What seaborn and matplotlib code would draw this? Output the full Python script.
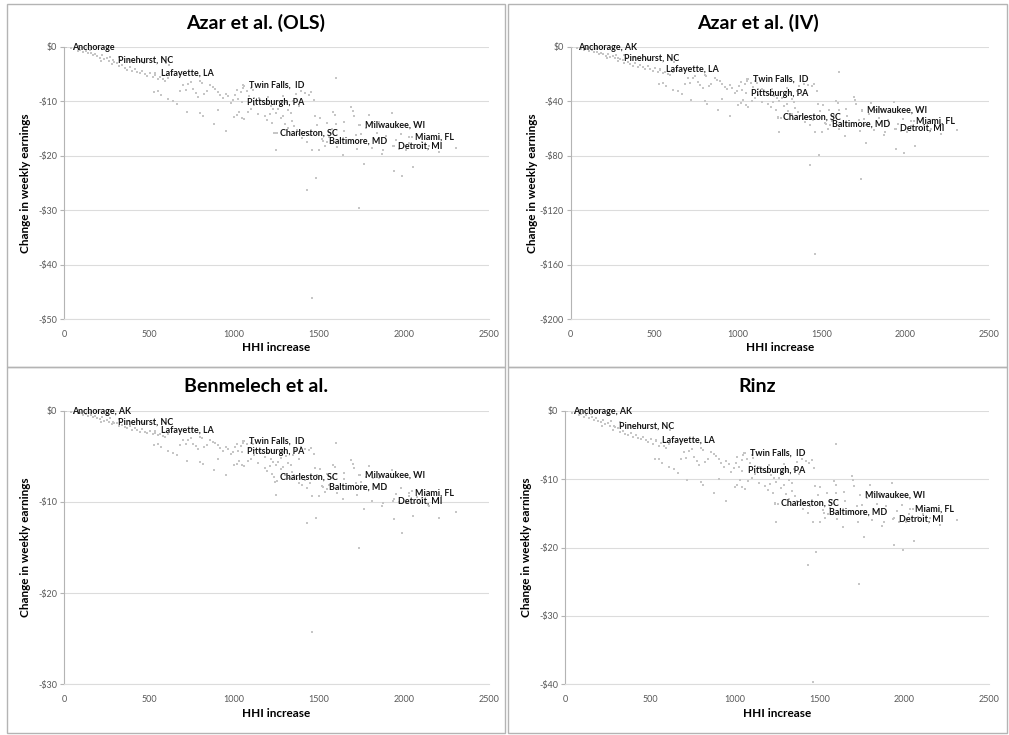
import pandas as pd
import matplotlib
matplotlib.use("Agg")
import matplotlib.pyplot as plt
from matplotlib.patches import Rectangle
from matplotlib.ticker import FuncFormatter, MultipleLocator
import seaborn as sns

# -----------------------------
# DATA
# -----------------------------
hhi = [40, 60, 80, 95, 110, 125, 140, 150, 155, 170,
       180, 195, 210, 215, 220, 235, 250, 265, 270, 280,
       295, 310, 320, 320, 330, 340, 355, 370, 380, 385,
       400, 415, 430, 445, 450, 460, 470, 475, 490, 505,
       520, 530, 535, 550, 550, 565, 570, 580, 595, 600,
       610, 610, 615, 640, 665, 680, 700, 715, 720, 730,
       745, 760, 775, 790, 800, 800, 810, 815, 825, 840,
       860, 875, 880, 890, 905, 905, 920, 935, 950, 950,
       965, 980, 995, 1000, 1005, 1015, 1015, 1025, 1030, 1040,
       1045, 1050, 1060, 1060, 1075, 1080, 1090, 1100, 1100, 1110,
       1120, 1120, 1140, 1145, 1165, 1180, 1185, 1195, 1200, 1210,
       1215, 1225, 1230, 1240, 1245, 1245, 1255, 1260, 1275, 1275,
       1290, 1290, 1300, 1305, 1320, 1320, 1335, 1340, 1350, 1355,
       1365, 1370, 1380, 1385, 1395, 1400, 1415, 1420, 1430, 1430,
       1440, 1445, 1455, 1460, 1460, 1470, 1475, 1480, 1490, 1500,
       1505, 1520, 1535, 1545, 1550, 1560, 1575, 1585, 1595, 1600,
       1600, 1605, 1640, 1645, 1650, 1690, 1700, 1705, 1720, 1725,
       1735, 1740, 1750, 1765, 1765, 1780, 1795, 1810, 1820, 1840,
       1855, 1870, 1880, 1895, 1930, 1940, 1940, 1955, 1970, 1985,
       1990, 2010, 2030, 2050, 2055, 2080, 2110, 2150, 2210, 2310]

azar_ols = [-0.3, -0.5, -0.7, -0.6, -1.0, -0.8, -1.2, -0.6, -1.1, -1.5,
            -1.3, -1.7, -2.0, -2.6, -1.6, -2.3, -2.1, -2.6, -1.8, -3.2,
            -2.8, -3.0, -1.9, -3.6, -2.5, -3.4, -3.9, -4.2, -2.4, -3.7,
            -4.5, -4.1, -4.6, -4.9, -2.7, -4.4, -3.0, -5.0, -5.3, -4.8,
            -5.6, -8.3, -5.2, -5.9, -8.1, -5.5, -8.8, -6.0, -6.3, -3.0,
            -5.7, -9.6, -3.3, -9.9, -10.6, -8.2, -7.0, -8.0, -11.9, -6.9,
            -6.5, -7.8, -8.5, -9.2, -6.3, -12.1, -6.6, -12.7, -8.7, -8.2,
            -7.0, -7.4, -14.1, -7.7, -8.3, -11.6, -8.9, -9.5, -8.6, -15.4,
            -9.1, -10.4, -9.8, -12.9, -8.8, -7.9, -12.5, -9.6, -11.9, -8.4,
            -13.0, -7.6, -7.2, -13.3, -8.1, -12.0, -9.0, -7.5, -11.5, -8.0,
            -9.4, -10.7, -12.3, -9.5, -10.0, -12.8, -10.5, -13.5, -9.3, -12.4,
            -10.9, -14.0, -11.5, -15.9, -12.1, -19.0, -15.8, -11.4, -10.6, -13.1,
            -9.1, -12.7, -14.2, -10.2, -11.7, -15.0, -12.2, -13.7, -9.9, -14.5,
            -8.7, -15.3, -10.8, -16.1, -8.2, -16.8, -15.6, -8.5, -17.4, -26.3,
            -8.8, -16.2, -8.4, -19.0, -46.1, -9.8, -12.8, -24.1, -14.3, -19.0,
            -13.0, -16.9, -18.2, -14.0, -17.5, -16.5, -15.1, -12.0, -12.6, -5.7,
            -14.1, -18.4, -19.8, -13.8, -15.4, -11.1, -11.8, -12.8, -16.2, -18.8,
            -29.5, -14.3, -16.0, -17.5, -21.5, -14.9, -12.5, -18.6, -14.0, -15.8,
            -13.9, -19.7, -19.0, -16.3, -12.2, -18.3, -22.8, -17.1, -18.8, -16.0,
            -23.7, -19.0, -17.6, -16.6, -22.1, -18.0, -17.5, -18.2, -19.4, -18.6]

azar_iv = [-1.0, -1.7, -2.3, -2.0, -3.3, -2.6, -4.0, -2.0, -3.6, -5.0,
           -4.3, -5.6, -6.6, -8.6, -5.3, -7.6, -6.9, -8.6, -5.9, -10.6,
           -9.2, -9.9, -6.3, -11.9, -8.3, -11.2, -12.9, -13.9, -7.9, -12.2,
           -14.9, -13.5, -15.2, -16.2, -8.9, -14.5, -9.9, -16.5, -17.5, -15.8,
           -18.5, -27.4, -17.2, -19.5, -26.7, -18.2, -29.0, -19.8, -20.8, -9.9,
           -18.8, -31.7, -10.9, -32.7, -35.0, -27.1, -23.1, -26.4, -39.3, -22.8,
           -21.5, -25.7, -28.1, -30.4, -20.8, -39.9, -21.8, -41.9, -28.7, -27.1,
           -23.1, -24.4, -46.5, -25.4, -27.4, -38.3, -29.4, -31.4, -28.4, -50.8,
           -30.0, -34.3, -32.3, -42.6, -29.0, -26.1, -41.3, -31.7, -39.3, -27.7,
           -42.9, -25.1, -23.8, -43.9, -26.7, -39.6, -29.7, -24.8, -38.0, -26.4,
           -31.0, -35.3, -40.6, -31.4, -33.0, -42.2, -34.7, -44.6, -30.7, -40.9,
           -36.0, -46.2, -38.0, -52.5, -39.9, -62.7, -52.1, -37.6, -35.0, -43.2,
           -30.0, -41.9, -46.9, -33.7, -38.6, -49.5, -40.3, -45.2, -32.7, -47.9,
           -28.7, -50.5, -35.6, -53.1, -27.1, -55.4, -51.5, -28.1, -57.4, -86.8,
           -29.0, -53.5, -27.7, -62.7, -152.1, -32.3, -42.2, -79.5, -47.2, -62.7,
           -42.9, -55.8, -60.1, -46.2, -57.8, -54.5, -49.8, -39.6, -41.6, -18.8,
           -46.5, -60.7, -65.3, -45.5, -50.8, -36.6, -38.9, -42.2, -53.5, -62.0,
           -97.4, -47.2, -52.8, -57.8, -71.0, -49.2, -41.3, -61.4, -46.2, -52.1,
           -45.9, -65.0, -62.7, -53.8, -40.3, -60.4, -75.2, -56.4, -62.0, -52.8,
           -78.2, -62.7, -58.1, -54.8, -72.9, -59.4, -57.8, -60.1, -64.0, -61.4]

benmelech = [-0.1, -0.2, -0.3, -0.3, -0.5, -0.4, -0.6, -0.3, -0.5, -0.7,
             -0.6, -0.8, -0.9, -1.2, -0.7, -1.1, -1.0, -1.2, -0.8, -1.5,
             -1.3, -1.4, -0.9, -1.7, -1.2, -1.6, -1.8, -1.9, -1.1, -1.7,
             -2.1, -1.9, -2.1, -2.3, -1.2, -2.0, -1.4, -2.3, -2.4, -2.2,
             -2.6, -3.8, -2.4, -2.7, -3.7, -2.5, -4.0, -2.8, -2.9, -1.4,
             -2.6, -4.4, -1.5, -4.6, -4.9, -3.8, -3.2, -3.7, -5.5, -3.2,
             -3.0, -3.6, -3.9, -4.2, -2.9, -5.6, -3.0, -5.8, -4.0, -3.8,
             -3.2, -3.4, -6.5, -3.5, -3.8, -5.3, -4.1, -4.4, -4.0, -7.1,
             -4.2, -4.8, -4.5, -5.9, -4.0, -3.6, -5.8, -4.4, -5.5, -3.9,
             -6.0, -3.5, -3.3, -6.1, -3.7, -5.5, -4.1, -3.5, -5.3, -3.7,
             -4.3, -4.9, -5.7, -4.4, -4.6, -6.3, -5.1, -6.6, -4.6, -6.1,
             -5.3, -6.9, -5.6, -7.8, -5.9, -9.2, -7.7, -5.6, -5.2, -6.4,
             -4.5, -6.2, -7.0, -5.0, -5.7, -7.4, -6.0, -6.7, -4.9, -7.1,
             -4.3, -7.5, -5.3, -7.9, -4.0, -8.2, -7.6, -4.2, -8.5, -12.3,
             -4.3, -7.9, -4.1, -9.3, -24.3, -4.8, -6.3, -11.8, -7.0, -9.3,
             -6.4, -8.3, -8.9, -6.9, -8.6, -8.1, -7.4, -5.9, -6.2, -3.5,
             -6.9, -9.0, -9.7, -6.8, -7.5, -5.4, -5.8, -6.3, -7.9, -9.2,
             -15.1, -7.0, -7.8, -8.6, -10.8, -7.3, -6.1, -9.9, -7.4, -8.4,
             -7.4, -10.4, -10.1, -8.6, -6.5, -9.7, -11.9, -9.1, -10.0, -8.5,
             -13.4, -10.1, -9.3, -8.8, -11.6, -9.5, -9.6, -10.4, -11.8, -11.1]

rinz = [-0.3, -0.4, -0.6, -0.5, -0.9, -0.7, -1.0, -0.5, -0.9, -1.3,
        -1.1, -1.5, -1.7, -2.2, -1.4, -2.0, -1.8, -2.2, -1.5, -2.8,
        -2.4, -2.6, -1.6, -3.1, -2.2, -2.9, -3.4, -3.6, -2.1, -3.2,
        -3.9, -3.5, -4.0, -4.2, -2.3, -3.8, -2.6, -4.3, -4.6, -4.1,
        -4.8, -7.1, -4.5, -5.1, -7.0, -4.7, -7.6, -5.2, -5.4, -2.6,
        -4.9, -8.3, -2.8, -8.5, -9.1, -7.1, -6.0, -6.9, -10.2, -5.9,
        -5.6, -6.7, -7.3, -7.9, -5.4, -10.4, -5.7, -10.9, -7.5, -7.1,
        -6.0, -6.4, -12.1, -6.6, -7.1, -10.0, -7.7, -8.2, -7.4, -13.2,
        -7.8, -8.9, -8.4, -11.1, -7.6, -6.8, -10.8, -8.3, -10.2, -7.2,
        -11.2, -6.5, -6.2, -11.4, -7.0, -10.3, -7.7, -6.5, -9.9, -6.9,
        -8.1, -9.2, -10.6, -8.2, -8.6, -11.0, -9.0, -11.6, -8.0, -10.7,
        -9.4, -12.0, -9.9, -13.7, -10.4, -16.3, -13.6, -9.8, -9.1, -11.3,
        -7.8, -10.9, -12.2, -8.8, -10.1, -12.9, -10.5, -11.8, -8.5, -12.5,
        -7.5, -13.2, -9.3, -13.8, -7.1, -14.4, -13.4, -7.3, -15.0, -22.6,
        -7.6, -13.9, -7.2, -16.3, -39.6, -8.4, -11.0, -20.7, -12.3, -16.3,
        -11.2, -14.5, -15.7, -12.0, -15.1, -14.2, -13.0, -10.3, -10.8, -4.9,
        -12.1, -15.8, -17.0, -11.9, -13.2, -9.5, -10.1, -11.0, -13.9, -16.2,
        -25.4, -12.3, -13.8, -15.1, -18.5, -12.8, -10.8, -16.0, -12.0, -13.6,
        -12.0, -16.9, -16.3, -14.0, -10.5, -15.7, -19.6, -14.7, -16.2, -13.8,
        -20.4, -16.3, -15.1, -14.3, -19.0, -15.5, -15.1, -15.7, -16.7, -16.0]

# labelled cities
cities = ["Anchorage", "Pinehurst, NC", "Lafayette, LA", "Twin Falls,  ID",
          "Pittsburgh, PA", "Charleston, SC", "Baltimore, MD", "Milwaukee, WI",
          "Miami, FL", "Detroit, MI"]
city_hhi = [10, 285, 535, 1055, 1045, 1237, 1525, 1738, 2032, 1934]
city_ols = [-0.1, -2.5, -4.9, -7.1, -10.2, -15.8, -17.3, -14.3, -16.6, -18.3]
city_iv = [-0.3, -8.3, -16.4, -23.7, -34.0, -51.8, -57.0, -46.7, -54.8, -60.1]
city_benmelech = [-0.05, -1.24, -2.2, -3.3, -4.5, -7.3, -8.4, -7.05, -9.0, -9.9]
city_rinz = [-0.1, -2.2, -4.3, -6.15, -8.8, -13.5, -14.9, -12.3, -14.4, -15.8]

titles = ["Azar et al. (OLS)", "Azar et al. (IV)", "Benmelech et al.", "Rinz"]
y_mins = [-50, -200, -30, -40]
y_steps = [10, 40, 10, 10]

# -----------------------------
# STYLE
# -----------------------------
sns.set_theme(style="white")
plt.rcParams["font.family"] = ["Lato", "DejaVu Sans"]

POINT = "#c6c6c6"
GRID = "#dcdcdc"
TICK = "#595959"
FRAME = "#b4b4b4"

W, H = 1009, 735
fig = plt.figure(figsize=(W / 100, H / 100), dpi=100)
fig.patch.set_facecolor("white")

# panel frames (pixels: x0, y0_top, x1, y1_bottom)
frames = [(7, 4, 505, 367), (508, 4, 1007, 367),
          (7, 367, 505, 733), (508, 367, 1007, 733)]
# axes boxes (pixels: left, top, right, bottom)
boxes = [(64.3, 46.7, 488.7, 319.3), (570.7, 46.7, 989.3, 319.3),
         (64.3, 410.7, 488.7, 684.3), (565.3, 410.7, 989.0, 684.3)]

panel_y = [azar_ols, azar_iv, benmelech, rinz]
panel_city_y = [city_ols, city_iv, city_benmelech, city_rinz]


def money(v, pos):
    if abs(v) < 1e-9:
        return "$0"
    return f"-${abs(v):.0f}"


for i in range(4):
    fx0, fy0, fx1, fy1 = frames[i]
    fig.add_artist(Rectangle((fx0 / W, 1 - fy1 / H), (fx1 - fx0) / W, (fy1 - fy0) / H,
                             transform=fig.transFigure, fill=False,
                             edgecolor=FRAME, linewidth=1.0))

    l, t, r, b = boxes[i]
    ax = fig.add_axes([l / W, 1 - b / H, (r - l) / W, (b - t) / H])

    df = pd.DataFrame({"hhi": hhi + city_hhi, "change": panel_y[i] + panel_city_y[i]})
    sns.scatterplot(data=df, x="hhi", y="change", ax=ax, color=POINT,
                    marker="s", s=3.6, linewidth=0, zorder=3)

    names = list(cities)
    if i > 0:
        names[0] = "Anchorage, AK"
    for name, cx, cy in zip(names, city_hhi, panel_city_y[i]):
        ax.annotate(name, (cx, cy), xytext=(4, 0), textcoords="offset points",
                    ha="left", va="center", fontsize=6.4, fontweight="bold",
                    color="#141414", zorder=4)

    ax.set_xlim(0, 2500)
    ax.set_ylim(y_mins[i], 0)
    ax.xaxis.set_major_locator(MultipleLocator(500))
    ax.yaxis.set_major_locator(MultipleLocator(y_steps[i]))
    ax.yaxis.set_major_formatter(FuncFormatter(money))
    ax.grid(axis="y", color=GRID, linewidth=0.8, zorder=0)
    ax.grid(axis="x", visible=False)
    ax.set_axisbelow(True)

    for side in ["top", "right"]:
        ax.spines[side].set_visible(False)
    ax.spines["left"].set_color(FRAME)
    ax.spines["left"].set_linewidth(0.8)
    ax.spines["bottom"].set_color(GRID)
    ax.spines["bottom"].set_linewidth(0.8)

    ax.tick_params(axis="y", length=3, width=0.8, color=FRAME, pad=2,
                   labelsize=6.5, labelcolor=TICK, left=True)
    ax.tick_params(axis="x", length=0, pad=8, labelsize=6.5, labelcolor=TICK)

    ax.set_xlabel("HHI increase", fontsize=8.5, fontweight="bold", color="#000000")
    ax.set_ylabel("Change in weekly earnings", fontsize=8.5, fontweight="bold",
                  color="#000000")
    ax.xaxis.set_label_coords(0.5, -0.085)
    ax.yaxis.set_label_coords(-0.078, 0.5)

    fig.text((fx0 + fx1) / 2 / W, 1 - (fy0 + 19) / H, titles[i], ha="center",
             va="center", fontsize=14, fontweight="bold", color="#000000")

fig.savefig("out.png", dpi=100, facecolor="white")
